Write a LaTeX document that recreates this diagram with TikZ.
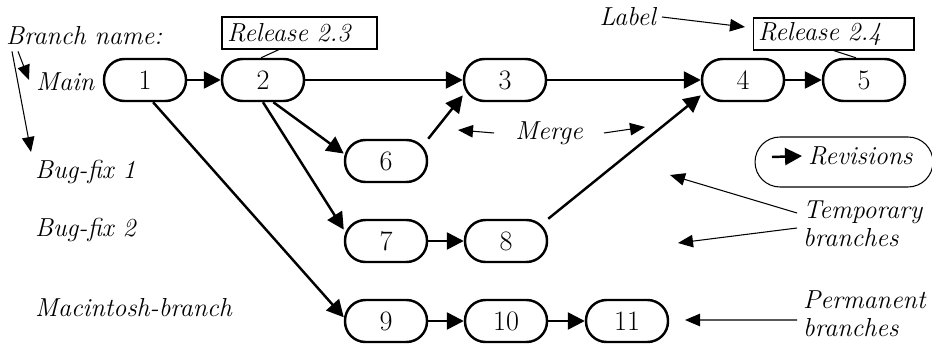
\documentclass[tikz,border=0pt]{standalone}
\usepackage{fontspec}
\usetikzlibrary{arrows.meta}

\newcommand{\diagfont}{\fontsize{14.8}{16}\selectfont}

\begin{document}
\begin{tikzpicture}[x=0.02cm, y=-0.02cm, font=\diagfont]

    \tikzset{revnode/.style={%
      draw,%
      rectangle,%
      line width=1.4pt,%
      rounded corners=0.41cm,%
      minimum width=1.64cm,%
      minimum height=0.84cm,%
      font=\fontsize{16}{16}\selectfont,%
      inner sep=0pt}%
    };

    \tikzset{brname/.style={font=\diagfont\itshape, align=left}};
    \tikzset{relbox/.style={draw, line width=0.6pt, font=\diagfont\itshape, align=left,
      minimum height=0.64cm, inner xsep=0.1cm, inner ysep=0pt}};
    \tikzset{flow/.style={line width=1.4pt, -{Triangle[length=0.34cm, width=0.34cm]}}};
    \tikzset{pointer/.style={line width=0.6pt, -{Triangle[length=0.3cm, width=0.25cm]}}};

    \useasboundingbox (0,0) rectangle (932,344);
    \clip (0,0) rectangle (932,344);

    %%%%%%%%%%%%%%%%%%
    %  branch names  %
    %%%%%%%%%%%%%%%%%%
    \node [brname, anchor=west] (bname) at (0,36) {Branch name:};
    \node [brname, anchor=west] (main) at (30,82) {Main};
    \node [brname, anchor=west] (bug1) at (29,172) {Bug-fix 1};
    \node [brname, anchor=west] (bug2) at (29,230) {Bug-fix 2};
    \node [brname, anchor=west] (mac) at (29,308) {Macintosh-branch};

    \coordinate (mainptr) at (29,80);
    \coordinate (bugptr) at (31,152);
    \draw [pointer] ([xshift=0.36cm]bname.south west) -- (mainptr);
    \draw [pointer] ([xshift=0.24cm]bname.south west) -- (bugptr);

    %%%%%%%%%%%%%%%
    %  revisions  %
    %%%%%%%%%%%%%%%
    \node [revnode] (r1) at (145,80) {1};
    \node [revnode] (r2) at (263,80) {2};
    \node [revnode] (r3) at (505,80) {3};
    \node [revnode] (r4) at (743,80) {4};
    \node [revnode] (r5) at (864,80) {5};
    \node [revnode] (r6) at (386,161) {6};
    \node [revnode] (r7) at (386,241) {7};
    \node [revnode] (r8) at (506,241) {8};
    \node [revnode] (r9) at (386,321) {9};
    \node [revnode] (r10) at (506,321) {10};
    \node [revnode] (r11) at (627,321) {11};

    \draw [flow] (r1) -- (r2);
    \draw [flow] (r2) -- (r3);
    \draw [flow] (r3) -- (r4);
    \draw [flow] (r4) -- (r5);
    \draw [flow] (r2.-65) -- (r6.170);
    \draw [flow] (r2.south) -- (r7.165);
    \draw [flow] (r1.-70) -- (r9.175);
    \draw [flow] (r6.north east) -- (r3.-160);
    \draw [flow] (r7) -- (r8);
    \draw [flow] (r8.north east) -- (r4.-160);
    \draw [flow] (r9) -- (r10);
    \draw [flow] (r10) -- (r11);

    %%%%%%%%%%%%
    %  labels  %
    %%%%%%%%%%%%
    \node [relbox, text width=2.9cm] (rel23) at (299.5,33) {Release 2.3};
    \node [relbox, text width=3.02cm] (rel24) at (833.5,34) {Release 2.4};
    \draw [line width=0.6pt] (rel23.219) -- (r2.95);
    \draw [line width=0.6pt] (rel24.south) -- (r5.110);

    \node [brname, anchor=east] (lbl) at (662,17) {Label};
    \coordinate (lbltip) at (745,27);
    \draw [pointer] (lbl.east) -- (lbltip);

    %%%%%%%%%%%%%%%%%%%%%%%%%%%%%%
    %  merge, legend, branches   %
    %%%%%%%%%%%%%%%%%%%%%%%%%%%%%%
    \node [brname, inner xsep=0.42cm] (merge) at (549,133) {Merge};
    \coordinate (mleft) at (458,130);
    \coordinate (mright) at (645,127);
    \draw [pointer] (merge.west) -- (mleft);
    \draw [pointer] (merge.east) -- (mright);

    \node [draw, line width=0.6pt, rounded corners=0.5cm, minimum width=3.56cm,
      minimum height=1.0cm] (legend) at (844,162) {};
    \node [brname, anchor=west] (revlbl) at (802,156) {Revisions};
    \coordinate (legtail) at (772,157);
    \draw [flow] (legtail) -- (revlbl.west);

    \node [brname, anchor=west] (tmp) at (797,224) {Temporary\\branches};
    \coordinate (tmptip1) at (670,175);
    \coordinate (tmptip2) at (678,243);
    \draw [pointer] ([yshift=0.22cm]tmp.west) -- (tmptip1);
    \draw [pointer] ([yshift=-0.08cm]tmp.west) -- (tmptip2);

    \node [brname, anchor=west] (perm) at (797,314) {Permanent\\branches};
    \coordinate (permtip) at (685,320);
    \draw [pointer] ([yshift=-0.12cm]perm.west) -- (permtip);

  \end{tikzpicture}
\end{document}
